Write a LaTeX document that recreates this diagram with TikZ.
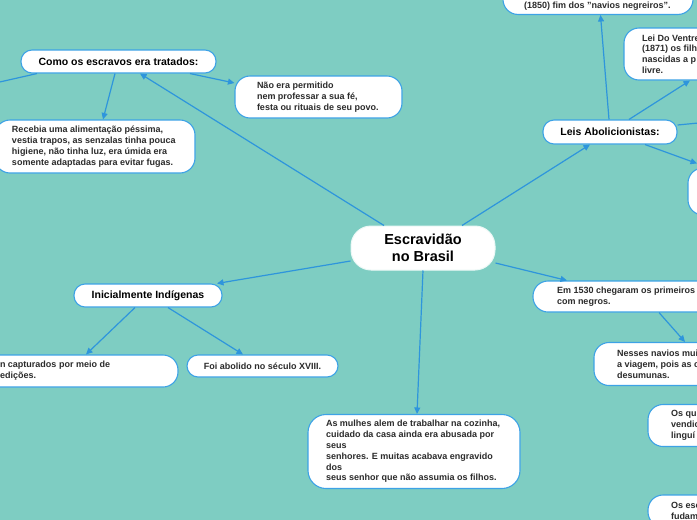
\documentclass[tikz,border=0pt]{standalone}
\usepackage{fontspec}
\setmainfont{Liberation Sans}
\usetikzlibrary{arrows.meta}
\definecolor{fundo}{HTML}{7ECDC2}
\definecolor{linha}{HTML}{2E95DC}
\definecolor{borda}{HTML}{3DA2E6}
\definecolor{texto}{HTML}{2B2B2B}
\begin{document}
\begin{tikzpicture}[x=1pt,y=-1pt,
    caixa/.style={draw=borda, line width=1.1pt, fill=white, rounded corners=11pt,
        inner ysep=0pt, font=\fontsize{10.5}{12}\selectfont\bfseries, text=black},
    nota/.style={draw=borda, line width=1.1pt, fill=white, rounded corners=15pt,
        inner ysep=0pt, align=flush left, font=\fontsize{9}{10.8}\selectfont\bfseries, text=texto},
    liga/.style={draw=linha, line width=1.2pt, -{Triangle[length=6.5pt,width=6pt]}}]
    % fundo
    \useasboundingbox (0,0) rectangle (697,520);
    \fill[fundo] (0,0) rectangle (697,520);
    \clip (0,0) rectangle (697,520);

    % tema central
    \node[fill=white, draw=white!85!fundo, line width=1pt, rounded corners=20pt,
        minimum width=144pt, minimum height=44pt, align=center,
        font=\fontsize{14.5}{17}\selectfont\bfseries] (cen) at (423,248) {Escravidão\\no Brasil};

    % ramo: como eram tratados
    \node[caixa, minimum width=195pt, minimum height=23pt] (como) at (118.5,61.5) {Como os escravos era tratados:};
    \node[nota, minimum height=42pt, inner xsep=22pt, text width=123pt] (nao) at (318.5,97)
        {Não era permitido\\nem professar a sua fé,\\festa ou rituais de seu povo.};
    \node[nota, minimum height=53pt, inner xsep=17pt, text width=166pt] (receb) at (95,146.5)
        {Recebia uma alimentação péssima,\\vestia trapos, as senzalas tinha pouca\\higiene, não tinha luz, era úmida era\\somente adaptadas para evitar fugas.};
    \coordinate (comofora) at (-40,91);

    % ramo: leis
    \node[caixa, minimum width=134pt, minimum height=24pt] (leis) at (610,132) {Leis Abolicionistas:};
    \node[nota, anchor=south, minimum width=190pt, inner xsep=21pt, text width=148pt,
        text height=34pt, text depth=3pt, inner ysep=3pt] (lei1850) at (598,15)
        {(1850) fim dos "navios negreiros".};
    \node[nota, minimum height=52pt, inner xsep=18pt, text width=114pt] (ventre) at (699,54)
        {Lei Do Ventre\\(1871) os filh\\nascidas a p\\livre.};
    \node[nota, minimum height=47pt, inner xsep=18pt, text width=114pt] (leidir) at (763,191.5) {};
    \coordinate (leisfora) at (740,119);

    % ramo: navios
    \node[nota, minimum height=31pt, inner xsep=24pt, text width=170pt] (em1530) at (642,296.5)
        {Em 1530 chegaram os primeiros\\com negros.};
    \node[nota, minimum height=43pt, inner xsep=23pt, text width=124pt] (nesses) at (679,364)
        {Nesses navios mui\\a viagem, pois as c\\desumunas.};
    \node[nota, minimum height=42pt, inner xsep=23pt, text width=104pt] (osqu) at (723,425.5)
        {Os qu\\vendic\\linguí};
    \node[nota, minimum height=32pt, inner xsep=23pt, text width=104pt] (osesc) at (723,511)
        {Os esc\\fudam};

    % ramo: indígenas
    \node[caixa, minimum width=148pt, minimum height=23pt] (indig) at (148,295.5) {Inicialmente Indígenas};
    \node[nota, minimum height=32pt, inner xsep=22pt, text width=156pt] (capt) at (78,371)
        {n capturados por meio de\\edições.};
    \node[nota, rounded corners=11pt, minimum width=151pt, minimum height=22pt, inner xsep=14pt,
        align=center] (foi) at (262.5,366) {Foi abolido no século XVIII.};

    % ramo: mulheres
    \node[nota, rounded corners=18pt, minimum height=74pt, inner xsep=18pt, text width=176pt] (mulh) at (414,451.5)
        {As mulhes alem de trabalhar na cozinha,\\cuidado da casa ainda era abusada por\\seus\\senhores. E muitas acabava engravido\\dos\\seus senhor que não assumia os filhos.};

    % ligações
    \draw[liga] ([xshift=-39pt]cen.north) -- ([xshift=21.5pt]como.south);
    \draw[liga] ([xshift=71.5pt]como.south) -- ([yshift=14pt]nao.west);
    \draw[liga] ([xshift=-3.5pt]como.south) -- ([xshift=8pt]receb.north);
    \draw[liga] ([xshift=-81.5pt]como.south) -- (comofora);

    \draw[liga] ([xshift=39pt]cen.north) -- ([xshift=-20pt]leis.south);
    \draw[liga] ([xshift=-1pt]leis.north) -- ([xshift=2.5pt]lei1850.south);
    \draw[liga] ([xshift=19pt]leis.north) -- ([xshift=-9pt]ventre.south);
    \draw[liga] ([yshift=7pt]leis.east) -- (leisfora);
    \draw[liga] ([xshift=35pt]leis.south) -- ([xshift=-66pt,yshift=4pt]leidir.north);

    \draw[liga] ([yshift=-15pt]cen.east) -- ([xshift=-75pt]em1530.north);
    \draw[liga] ([xshift=17pt]em1530.south) -- ([xshift=6pt]nesses.north);

    \draw[liga] ([yshift=-13pt]cen.west) -- ([xshift=69pt]indig.north);
    \draw[liga] ([xshift=-13pt]indig.south) -- ([xshift=8pt]capt.north);
    \draw[liga] ([xshift=20pt]indig.south) -- ([xshift=-19.5pt]foi.north);

    \draw[liga] (cen.south) -- ([xshift=3pt]mulh.north);
\end{tikzpicture}
\end{document}
